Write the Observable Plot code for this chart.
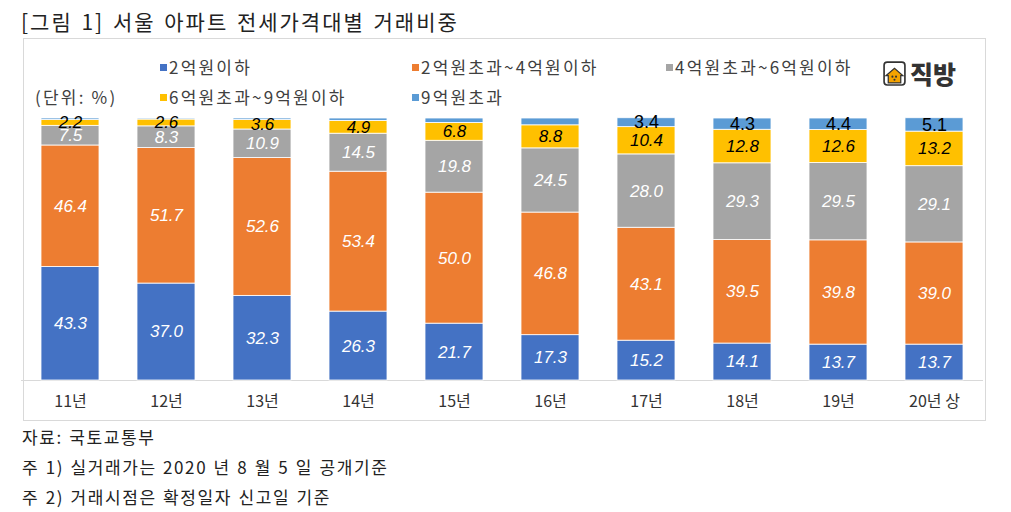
<!DOCTYPE html>
<html><head><meta charset="utf-8">
<script src="https://cdn.jsdelivr.net/npm/d3@7"></script>
<script src="https://cdn.jsdelivr.net/npm/@observablehq/plot@0.6"></script>
<style>
body{margin:0;background:#fff;font-family:"Noto Sans CJK KR","Noto Sans",sans-serif;}
#wrap{position:relative;width:1011px;height:512px;overflow:hidden;}
.abs{position:absolute;white-space:nowrap;}
#title{left:21px;top:6px;font-size:21px;line-height:30px;color:#222;letter-spacing:2px;word-spacing:2px;}
#box{left:23px;top:38px;width:961px;height:381px;border:1px solid #d9d9d9;}
#chart{left:0;top:38px;}
.leg{font-size:17px;line-height:20px;color:#404040;letter-spacing:2.2px;}
.leg i{display:inline-block;width:7px;height:7px;margin-right:2px;vertical-align:middle;position:relative;top:-2px;}
.note{left:22px;font-size:17px;line-height:20px;color:#222;letter-spacing:1.6px;word-spacing:1px;}
#logo{left:883px;top:55px;display:flex;align-items:center;}
#logo b{font-size:25px;color:#333;margin-left:4px;font-weight:900;letter-spacing:0px;}
</style></head>
<body><div id="wrap">
<div id="title" class="abs">[그림 1] 서울 아파트 전세가격대별 거래비중</div>
<div id="box" class="abs"></div>
<div id="chart" class="abs"></div>
<div id="legend"></div>
<div class="abs leg" style="left:35px;top:87px;">(단위: %)</div>
<div id="logo" class="abs"><svg width="23" height="25" viewBox="0 0 22 24"><rect x="1" y="1" width="20" height="22" rx="3" fill="#fff" stroke="#333" stroke-width="1.6"/><path d="M3 14 L11 7 L19 14 L17 14 L17 21 L5 21 L5 14 Z" fill="#F5A300" stroke="#333" stroke-width="1.2"/><circle cx="9" cy="15" r="1" fill="#333"/><circle cx="12.5" cy="15" r="1" fill="#333"/><circle cx="11" cy="18" r="1" fill="#333"/></svg><b>직방</b></div>
<div class="abs note" style="top:427px;">자료: 국토교통부</div>
<div class="abs note" style="top:457px;">주 1) 실거래가는 2020 년 8 월 5 일 공개기준</div>
<div class="abs note" style="top:487px;">주 2) 거래시점은 확정일자 신고일 기준</div>
</div>
<script>
const years = ["11년","12년","13년","14년","15년","16년","17년","18년","19년","20년 상"];
const categories = ["2억원이하","2억원초과~4억원이하","4억원초과~6억원이하","6억원초과~9억원이하","9억원초과"];
const colors = ["#4472C4","#ED7D31","#A5A5A5","#FFC000","#5B9BD5"];
const under2 = [43.3,37.0,32.3,26.3,21.7,17.3,15.2,14.1,13.7,13.7];
const from2to4 = [46.4,51.7,52.6,53.4,50.0,46.8,43.1,39.5,39.8,39.0];
const from4to6 = [7.5,8.3,10.9,14.5,19.8,24.5,28.0,29.3,29.5,29.1];
const from6to9 = [2.2,2.6,3.6,4.9,6.8,8.8,10.4,12.8,12.6,13.2];
const over9 = [0.6,0.4,0.6,0.9,1.7,2.6,3.4,4.3,4.4,5.1];
const over9Labeled = [false,false,false,false,false,false,true,true,true,true];

const series = [under2, from2to4, from4to6, from6to9, over9];
const data = [];
categories.forEach((c, ci) => years.forEach((y, yi) => data.push({year: y, cat: c, ci, yi, value: series[ci][yi]})));

// legend
const legPos = [[160,57],[412,57],[666,57],[160,87],[412,87]];
const legend = document.getElementById("legend");
categories.forEach((c, i) => {
  const d = document.createElement("div");
  d.className = "abs leg";
  d.style.left = legPos[i][0] + "px";
  d.style.top = legPos[i][1] + "px";
  d.innerHTML = `<i style="background:${colors[i]}"></i>${c}`;
  legend.appendChild(d);
});

const stack = (opts) => Plot.stackY({x: "year", y: "value", z: "cat", ...opts});
const plot = Plot.plot({
  width: 1011, height: 382,
  marginTop: 80, marginBottom: 40, marginLeft: 21, marginRight: 28,
  style: {fontSize: "16px", fontFamily: "'Noto Sans CJK KR', sans-serif", background: "transparent", color: "#333"},
  x: {domain: years, paddingInner: 0.4, paddingOuter: 0.2, label: null},
  y: {domain: [0, 100], axis: null},
  color: {domain: categories, range: colors},
  marks: [
    Plot.ruleY([0], {stroke: "#d9d9d9", strokeWidth: 1}),
    Plot.barY(data, stack({fill: "cat", stroke: "white", strokeWidth: 0.8})),
    Plot.text(data, stack({text: d => d.ci < 3 ? d.value.toFixed(1) : null, fill: "white", fontStyle: "italic", fontSize: 17, fontFamily: "'Liberation Sans', Arial, sans-serif"})),
    Plot.text(data, stack({text: d => d.ci === 3 ? d.value.toFixed(1) : null, fill: "black", fontStyle: "italic", fontSize: 17, fontFamily: "'Liberation Sans', Arial, sans-serif"})),
    Plot.text(data, stack({text: d => d.ci === 4 && over9Labeled[d.yi] ? d.value.toFixed(1) : null, fill: "black", fontSize: 18, fontFamily: "'Liberation Sans', Arial, sans-serif"})),
    Plot.axisX({tickSize: 0, tickPadding: 15, fontSize: 16, label: null, fill: "#333"})
  ]
});
document.getElementById("chart").appendChild(plot);
</script>
</body></html>
